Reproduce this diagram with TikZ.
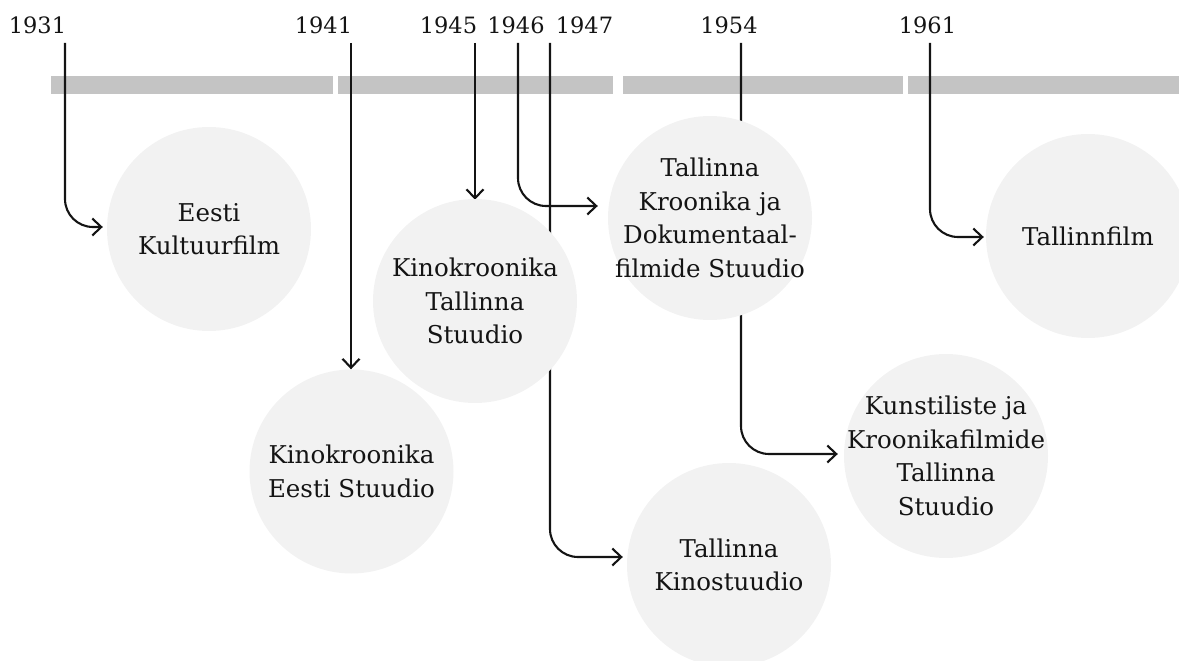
\documentclass[tikz,border=0pt]{standalone}
\usepackage{fontspec}
\setmainfont{DejaVu Serif}
\usetikzlibrary{arrows.meta,calc}
\definecolor{barc}{HTML}{C4C4C4}
\definecolor{circc}{HTML}{F2F2F2}
\definecolor{ink}{HTML}{141414}
\pgfdeclarelayer{bars}
\pgfdeclarelayer{links}
\pgfsetlayers{bars,links,main}
\tikzset{
  bar/.style={fill=barc, draw=none},
  org/.style={circle, fill=circc, draw=none, minimum size=204pt, inner sep=-45pt,
    align=center, text=ink, font=\fontsize{24.5}{33.5}\selectfont},
  year/.style={anchor=base, text=ink, inner sep=0pt, font=\fontsize{22.5}{27}\selectfont},
  link/.style={draw=ink, line width=2.1pt, rounded corners=28pt},
  arr/.style={link, -{Straight Barb[length=9pt,width=17pt,line width=2.1pt]}}
}
\begin{document}
\begin{tikzpicture}[x=1pt,y=-1pt]
\useasboundingbox (0,0) rectangle (1179,661);
% organisations
\node[org] (eesti) at (209,229) {Eesti\\Kultuurfilm};
\node[org] (keesti) at (351.5,471.5) {Kinokroonika\\Eesti Stuudio};
\node[org] (ktall) at (475,301) {Kinokroonika\\Tallinna\\Stuudio};
\node[org] (kroon) at (710,218) {Tallinna\\Kroonika ja\\Dokumentaal-\\filmide Stuudio};
\node[org] (tfilm) at (1088,236) {Tallinnfilm};
\node[org] (kunst) at (946,456) {Kunstiliste ja\\Kroonikafilmide\\Tallinna\\Stuudio};
\node[org] (kino) at (729,565) {Tallinna\\Kinostuudio};
% years
\node[year] (y1931) at (37.5,34) {1931};
\node[year] (y1941) at (323.5,34) {1941};
\node[year] (y1945) at (448.5,34) {1945};
\node[year] (y1946) at (516,34) {1946};
\node[year] (y1947) at (584.5,34) {1947};
\node[year] (y1954) at (729,34) {1954};
\node[year] (y1961) at (927.5,34) {1961};
\coordinate (t1931) at (65,43);
\coordinate (t1941) at (351,43);
\coordinate (t1945) at (475,43);
\coordinate (t1946) at (518,43);
\coordinate (t1947) at (550,43);
\coordinate (t1954) at (741,43);
\coordinate (t1961) at (930,43);
% timeline bars
\begin{pgfonlayer}{bars}
\fill[bar] (50.7,76) rectangle (332.7,94);
\fill[bar] (337.7,76) rectangle (613,94);
\fill[bar] (622.7,76) rectangle (902.7,94);
\fill[bar] (907.7,76) rectangle (1185,94);
\end{pgfonlayer}
% connectors
\begin{pgfonlayer}{links}
\draw[arr] (t1931) |- ($(eesti.west)+(-4,-2)$);
\draw[arr] (t1941) -- ($(keesti.north)+(-0.5,0)$);
\draw[arr] (t1945) -- ($(ktall.north)+(0,1)$);
\draw[arr] (t1946) |- ($(kroon.west)+(-10,-12)$);
\draw[arr] (t1947) |- ($(kino.west)+(-4,-8)$);
\draw[arr] (t1954) |- ($(kunst.west)+(-6,-2)$);
\draw[arr] (t1961) |- ($(tfilm.west)+(-2,1)$);
\end{pgfonlayer}
\end{tikzpicture}
\end{document}
